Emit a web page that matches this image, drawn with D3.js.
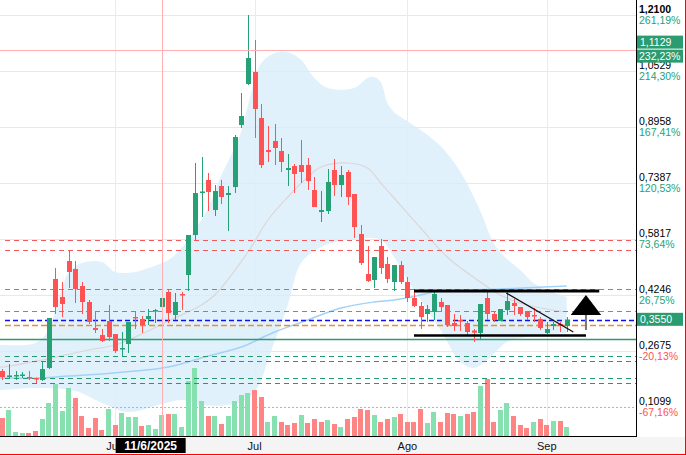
<!DOCTYPE html>
<html>
<head>
<meta charset="utf-8">
<script src="https://cdn.jsdelivr.net/npm/d3@7"></script>
<style>
html, body { margin: 0; padding: 0; background: #fff; }
svg { display: block; font-family: "Liberation Sans", Arial, sans-serif; }
</style>
</head>
<body>
<svg id="chart" width="686" height="455"></svg>
<script>
// daily candles, 8 May -> 4 Sep 2025
const open  = [.2114,.1946,.1974,.1990,.1946,.1918,.1862,.2198,.4695,.4190,.5200,.4975,.4498,.4050,.3320,.3124,.3517,.3152,.2731,.2872,
  .3629,.3573,.3573,.3797,.3909,.4330,.3685,.4274,.4807,.5929,.7107,.7472,.6630,.7303,.7051,.7275,.9015,1.0165,1.0501,.9211,
  .8313,.8566,.8285,.7752,.7864,.7893,.7893,.7191,.6574,.6602,.7752,.7332,.7696,.7079,.5957,.4835,.4667,.5620,.5116,.4611,
  .5088,.4611,.4162,.3937,.3713,.3769,.4050,.3965,.3461,.3545,.3461,.3250,.3180,.4162,.3713,.3517,.3825,.4022,.3909,.3797,
  .3685,.3573,.3180,.3376,.3433,.3376]
const high  = [.2170,.2311,.2114,.2086,.2114,.1932,.2367,.3601,.5003,.4611,.5508,.5200,.4611,.4106,.3797,.3292,.3965,.3152,.3208,.3489,
  .3769,.3657,.3853,.3853,.4162,.4414,.4302,.4330,.5929,.7949,.8117,.7668,.7332,.7472,.7303,.8734,.9912,1.2100,1.1399,.9604,
  .8986,.9043,.8650,.8201,.7921,.8594,.8089,.7556,.7163,.7780,.8061,.7864,.7752,.7079,.6210,.5620,.5312,.5817,.5312,.5088,
  .5200,.4751,.4414,.4050,.3965,.4330,.4162,.3965,.3713,.3685,.3517,.3292,.3993,.4358,.3769,.3853,.4330,.4134,.3909,.3797,
  .3881,.3629,.3489,.3489,.3489,.3629]
const low   = [.1862,.1890,.1862,.1918,.1862,.1778,.1834,.2170,.3713,.3629,.4442,.4022,.3713,.3433,.3180,.2928,.2956,.2619,.2507,.2619,
  .3292,.3180,.3405,.3461,.3909,.3461,.3545,.3825,.4358,.5789,.6434,.6602,.6462,.6799,.6041,.7107,.8930,1.0137,.8650,.7808,
  .7977,.7893,.7696,.7303,.7107,.7388,.7191,.6714,.6294,.6518,.7023,.6995,.6771,.5845,.5088,.4611,.4442,.4835,.4583,.4358,
  .4555,.4050,.3909,.3292,.3489,.3545,.3769,.3348,.3236,.3236,.3124,.2928,.3012,.3545,.3489,.3517,.3685,.3685,.3657,.3545,
  .3489,.3264,.3152,.3264,.3208,.3208]
const close = [.1946,.1990,.2002,.2016,.1918,.1904,.2170,.3601,.3909,.3993,.4891,.4414,.4050,.3489,.3264,.2956,.3068,.2675,.2759,.3489,
  .3587,.3405,.3657,.3825,.4162,.3741,.4050,.4232,.5929,.7107,.7150,.7135,.7163,.6995,.7107,.8678,.9267,1.0894,.9463,.7893,
  .8257,.8369,.7977,.7808,.7640,.7696,.7444,.6714,.6630,.7416,.7332,.7612,.6995,.6153,.5144,.4639,.5312,.5003,.4695,.5088,
  .4611,.4162,.3937,.3629,.3853,.4274,.3909,.3405,.3376,.3517,.3208,.3190,.3993,.3713,.3545,.3853,.4078,.3937,.3713,.3629,
  .3643,.3320,.3292,.3433,.3376,.3550]
const volume = [180,260,40,30,30,50,170,330,520,250,480,380,200,80,180,60,270,110,230,190,
  190,100,110,70,210,220,220,90,550,680,350,200,200,120,200,350,410,430,460,390,
  140,200,140,110,130,210,130,170,140,160,120,90,170,190,270,260,210,140,170,190,
  220,140,140,270,130,240,140,230,220,200,220,240,500,570,140,260,330,200,110,80,
  140,170,110,150,150,90]

// bollinger bands and moving averages
const upperIdx = [-1,0,5,7,8,9,10,12,15,17,20,22,25,27,29,31,33,35,36,37,38,39,41,43,45,47,49,53,55,56,57,58,59,60,63,66,69,72,74,76,78,80,82,85]
const upper    = [.2844,.2844,.2900,.3264,.3825,.4442,.4891,.5144,.5172,.4891,.4891,.5003,.5228,.5564,.6069,.6686,.7612,.8369,.8846,.9576,1.0277,1.0754,1.1034,1.1062,1.0838,1.0333,1.0052,1.0052,1.0333,1.0361,1.0221,.9632,.9379,.9239,.8874,.8426,.7696,.6602,.5705,.5256,.4947,.4583,.4386,.4190]
const lowerIdx = [-1,0,5,11,15,19,24,27,30,34,37,39,40,43,45,48,51,57,59,61,63,66,69,71,73,76,79,85]
const lower    = [.1581,.1581,.1637,.1553,.1217,.0964,.1189,.1301,.1161,.1161,.1329,.1862,.2423,.3965,.5144,.5592,.5761,.5789,.5312,.4667,.4106,.3264,.2367,.2198,.2423,.2928,.3068,.3180]
const midIdx   = [-1,0,6,13,17,21,25,30,32,37,40,43,46,48,52,55,57,59,63,67,72,75,79,85]
const mid      = [.2226,.2226,.2423,.2703,.2844,.3152,.3517,.3965,.4246,.5452,.6350,.6995,.7556,.7836,.7949,.7808,.7388,.6967,.6125,.5312,.4611,.4246,.3965,.3769]
const maIdx    = [-1,0,6,10,15,20,25,31,36,41,46,51,56,59,63,65,75,85]
const ma       = [.1918,.1918,.1918,.1974,.2030,.2114,.2226,.2535,.2787,.3208,.3545,.3881,.4050,.4106,.4246,.4330,.4414,.4498]

// price scale ticks
const tickPrices = [1.21, 1.0529, 0.8958, 0.7387, 0.5817, 0.4246, 0.2675, 0.1099]
const tickPct    = ['261,19%','214,30%','167,41%','120,53%','73,64%','26,75%','-20,13%','-67,16%']
const monthNames = ['Jun','Jul','Ago','Sep']
const monthIdx   = [17, 38, 61, 82]

// horizontal levels
const redLevels   = [0.5789, 0.5508, 0.4414, 0.3797]
const blueLevel   = 0.3550
const orangeLevel = 0.3405
const greenSolid  = 0.3012
const greenLevels = [0.2535, 0.2395, 0.1918, 0.1778]

// drawn pattern (index, price)
const resistance = [[62.0, 0.4358], [89.9, 0.4358]]
const support    = [[62.0, 0.3110], [87.9, 0.3110]]
const trendLine  = [[75.9, 0.4302], [86.0, 0.3208]]
const arrowHead  = [[87.9, 0.4246], [85.6, 0.3685], [90.2, 0.3685]]
const arrowStem  = [[87.9, 0.3685], [87.9, 0.3264]]

// crosshair
const crossIdx = 24, crossPrice = 1.1129, crossDate = '11/6/2025', crossPct = '232,23%'

const W = 636, H = 436
const green = '#26a176', red = '#ff5252'
const volGreen = '#86e0b0', volRed = '#ff8585'

const fmt = d3.formatLocale({decimal: ',', thousands: '.', grouping: [3], currency: ['', '']}).format('.4f')

const x = d3.scaleLinear().domain([0, close.length - 1]).range([2.3, 566.7])
const y = d3.scaleLinear().domain([0.1099, 1.21]).range([407.2, 15])
const yv = d3.scaleLinear().domain([0, 700]).range([H, H - 70])

const svg = d3.select('#chart')

svg.append('rect').attr('width', 686).attr('height', 455).attr('fill', '#fff')

svg.append('defs').append('clipPath').attr('id', 'plotclip')
.append('rect').attr('width', W).attr('height', H)

const plot = svg.append('g').attr('clip-path', 'url(#plotclip)')

const curve = d3.line()
.x(d => x(d[0]))
.y(d => y(d[1]))
.curve(d3.curveCatmullRom.alpha(0.5))

// band fill
const upPts = d3.zip(upperIdx, upper)
const loPts = d3.zip(lowerIdx, lower).reverse()
plot.append('path')
.attr('d', curve(upPts) + curve(loPts).replace(/^M/, 'L') + 'Z')
.attr('fill', '#e1f1fc')

// grid
tickPrices.forEach((t, k) => {
	const yy = Math.round(y(t)) + 0.5
	plot.append('line')
	.attr('x1', 0).attr('x2', W).attr('y1', yy).attr('y2', yy)
	.attr('stroke', k == tickPrices.length - 1 ? '#b5b5b5' : '#e8e8e8')
	.attr('stroke-dasharray', k == tickPrices.length - 1 ? '2,2' : null)
})
monthIdx.forEach(i => {
	const xx = Math.round(x(i)) + 0.5
	plot.append('line')
	.attr('x1', xx).attr('x2', xx).attr('y1', 0).attr('y2', H)
	.attr('stroke', '#ebebeb')
})

plot.append('path').attr('d', curve(d3.zip(midIdx, mid)))
.attr('fill', 'none').attr('stroke', '#dcd6d6').attr('stroke-width', 1.2)

plot.append('path').attr('d', curve(d3.zip(maIdx, ma)))
.attr('fill', 'none').attr('stroke', '#a3d2f6').attr('stroke-width', 1.5)

// volume
plot.selectAll('.vol')
.data(volume)
.enter()
.append('rect')
.attr('class', 'vol')
.attr('x', (d, i) => Math.round(x(i) - 2.5))
.attr('width', 5)
.attr('y', d => yv(d))
.attr('height', d => H - yv(d))
.attr('fill', (d, i) => (i > 0 && close[i] >= close[i - 1]) ? volGreen : volRed)

// levels
const level = (p, color, dash, w) => {
	const yy = Math.round(y(p)) + 0.5
	plot.append('line')
	.attr('x1', 5).attr('x2', W).attr('y1', yy).attr('y2', yy)
	.attr('stroke', color).attr('stroke-width', w)
	.attr('stroke-dasharray', dash)
}
redLevels.forEach(p => level(p, '#f55a5a', '5,4', 1))
greenLevels.forEach(p => level(p, '#229a6a', '5,4', 1))
level(blueLevel, '#1010ee', '5,3', 1.6)
level(orangeLevel, '#ec9024', '6,3', 1.4)
plot.append('line')
.attr('x1', 0).attr('x2', W).attr('y1', Math.round(y(greenSolid)) + 0.5).attr('y2', Math.round(y(greenSolid)) + 0.5)
.attr('stroke', '#2f9a72').attr('stroke-width', 1.4)

// candles
const idx = d3.range(close.length)
plot.selectAll('.wick')
.data(idx)
.enter()
.append('line')
.attr('class', 'wick')
.attr('x1', i => Math.round(x(i)) + 0.5)
.attr('x2', i => Math.round(x(i)) + 0.5)
.attr('y1', i => y(high[i]))
.attr('y2', i => y(low[i]))
.attr('stroke', i => close[i] >= open[i] ? green : red)

plot.selectAll('.body')
.data(idx)
.enter()
.append('rect')
.attr('class', 'body')
.attr('x', i => Math.round(x(i)) - 2)
.attr('width', 5)
.attr('y', i => y(Math.max(open[i], close[i])))
.attr('height', i => Math.max(1.5, Math.abs(y(open[i]) - y(close[i]))))
.attr('fill', i => close[i] >= open[i] ? green : red)

// pattern drawing
const seg = d3.line().x(d => x(d[0])).y(d => y(d[1]))
plot.append('path').attr('d', seg(resistance)).attr('stroke', '#000').attr('stroke-width', 3)
plot.append('path').attr('d', seg(support)).attr('stroke', '#000').attr('stroke-width', 2.5)
plot.append('path').attr('d', seg(trendLine)).attr('stroke', '#111').attr('stroke-width', 1.3)
plot.append('path').attr('d', seg(arrowStem)).attr('stroke', '#777').attr('stroke-width', 2)
plot.append('path').attr('d', seg(arrowHead) + 'Z').attr('fill', '#000')

// crosshair
plot.append('line')
.attr('x1', Math.round(x(crossIdx)) + 0.5).attr('x2', Math.round(x(crossIdx)) + 0.5)
.attr('y1', 0).attr('y2', H)
.attr('stroke', '#ffb0b0')
plot.append('line')
.attr('x1', 0).attr('x2', W)
.attr('y1', Math.round(y(crossPrice)) + 0.5).attr('y2', Math.round(y(crossPrice)) + 0.5)
.attr('stroke', '#ffb0b0')

// axes frame
svg.append('rect').attr('x', 0).attr('y', H + 1).attr('width', 686).attr('height', 18).attr('fill', '#f4f4f4')
svg.append('line').attr('x1', W + 0.5).attr('x2', W + 0.5).attr('y1', 0).attr('y2', H + 1).attr('stroke', '#000')
svg.append('line').attr('x1', 0).attr('x2', W + 1).attr('y1', H + 0.5).attr('y2', H + 0.5).attr('stroke', '#000')

// month labels
monthNames.forEach((m, k) => {
	svg.append('text')
	.attr('x', x(monthIdx[k]))
	.attr('y', 450)
	.attr('text-anchor', 'middle')
	.attr('font-size', 11)
	.attr('fill', '#111')
	.text(m)
})

// crosshair date tag
svg.append('rect')
.attr('x', x(crossIdx) - 46).attr('y', 438)
.attr('width', 70).attr('height', 15)
.attr('fill', '#000')
svg.append('text')
.attr('x', x(crossIdx) - 11).attr('y', 450)
.attr('text-anchor', 'middle')
.attr('font-size', 12).attr('font-weight', 'bold')
.attr('fill', '#fff')
.text(crossDate)

// price axis labels
tickPrices.forEach((t, k) => {
	svg.append('text')
	.attr('x', 639).attr('y', y(t) - 2)
	.attr('font-size', 10.5)
	.attr('font-weight', k == 0 ? 'bold' : 'normal')
	.attr('fill', '#000')
	.text(fmt(t))
	svg.append('text')
	.attr('x', 639).attr('y', y(t) + 9)
	.attr('font-size', 10.5)
	.attr('fill', tickPct[k][0] == '-' ? red : green)
	.text(tickPct[k])
})

// crosshair price tags
const cy = y(crossPrice)
svg.append('rect').attr('x', 637).attr('y', cy - 14).attr('width', 46).attr('height', 13).attr('fill', '#2a9c70')
svg.append('rect').attr('x', 637).attr('y', cy).attr('width', 46).attr('height', 13).attr('fill', '#2a9c70')
svg.append('text').attr('x', 640).attr('y', cy - 4).attr('font-size', 10.5).attr('fill', '#fff').text(fmt(crossPrice))
svg.append('text').attr('x', 639).attr('y', cy + 10).attr('font-size', 10.5).attr('fill', '#fff').text(crossPct)

// last price tag
const ly = y(close[close.length - 1])
svg.append('rect').attr('x', 637).attr('y', ly - 7).attr('width', 46).attr('height', 13).attr('fill', '#2a9c70')
svg.append('text').attr('x', 640).attr('y', ly + 3.5).attr('font-size', 10.5).attr('fill', '#fff').text(fmt(close[close.length - 1]))

// outer red frame
svg.append('line').attr('x1', 685.5).attr('x2', 685.5).attr('y1', 0).attr('y2', 455).attr('stroke', '#f00')
svg.append('line').attr('x1', 0).attr('x2', 686).attr('y1', 454.5).attr('y2', 454.5).attr('stroke', '#f00')
</script>
</body>
</html>
